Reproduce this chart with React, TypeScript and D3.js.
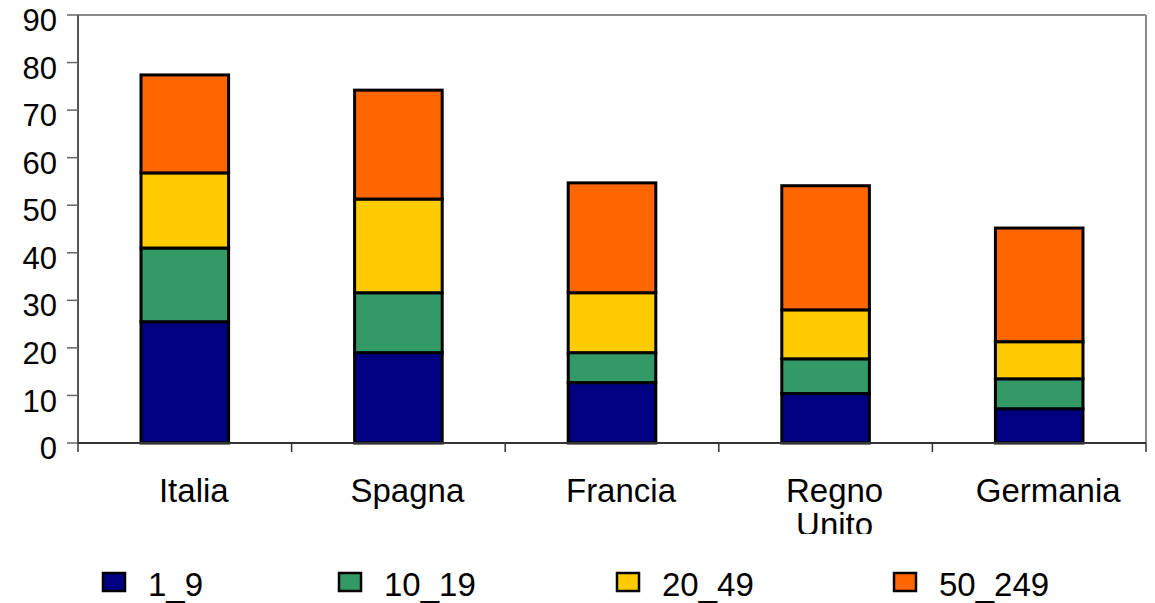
import React from "react";
import * as d3 from "d3";

const categories = ["Italia", "Spagna", "Francia", "Regno Unito", "Germania"];
const seriesNames = ["1_9", "10_19", "20_49", "50_249"];
const s1_9 = [25.5, 19.0, 12.7, 10.4, 7.2];
const s10_19 = [15.5, 12.6, 6.3, 7.3, 6.3];
const s20_49 = [15.8, 19.7, 12.6, 10.3, 7.8];
const s50_249 = [20.6, 22.9, 23.1, 26.1, 23.9];
const colors = ["#000080", "#339966", "#FFCC00", "#FF6600"];
const yTicks = [0, 10, 20, 30, 40, 50, 60, 70, 80, 90];

const W = 1155;
const H = 603;
const left = 78;
const right = 1146;
const top = 15;
const bottom = 443;
const font = "'Liberation Sans', Arial, sans-serif";

export default function App() {
  const seriesVals = [s1_9, s10_19, s20_49, s50_249];
  const rows = categories.map((c, i) => {
    const r: any = { cat: c };
    seriesNames.forEach((s, j) => (r[s] = seriesVals[j][i]));
    return r;
  });
  const stack = d3.stack().keys(seriesNames)(rows);
  const x = d3.scaleBand().domain(categories).range([left, right]).paddingInner(0).paddingOuter(0);
  const y = d3.scaleLinear().domain([0, 90]).range([bottom, top]);
  const bw = x.bandwidth() * 0.41;

  const legendX = [103, 339, 617, 894];

  return (
    <svg width={W} height={H} style={{ position: "absolute", left: 0, top: 0, background: "#fff" }}>
      <defs>
        <clipPath id="lblclip">
          <rect x={0} y={450} width={W} height={84} />
        </clipPath>
      </defs>
      {/* frame */}
      <line x1={left} x2={right} y1={top} y2={top} stroke="#8a8a8a" strokeWidth={2} />
      <line x1={right} x2={right} y1={top} y2={bottom} stroke="#8a8a8a" strokeWidth={2} />
      {/* bars */}
      {stack.map((layer, j) =>
        layer.map((d, i) => (
          <rect
            key={`${j}-${i}`}
            x={(x(categories[i]) as number) + x.bandwidth() / 2 - bw / 2}
            y={y(d[1])}
            width={bw}
            height={y(d[0]) - y(d[1])}
            fill={colors[j]}
            stroke="#000"
            strokeWidth={3}
          />
        ))
      )}
      {/* y axis */}
      <line x1={left} x2={left} y1={top} y2={bottom} stroke="#555" strokeWidth={2} />
      {yTicks.map((t) => (
        <g key={t}>
          <line x1={67} x2={left} y1={y(t)} y2={y(t)} stroke="#666" strokeWidth={1.5} />
          <text x={57} y={y(t) + 5} dy="0.36em" textAnchor="end" fontFamily={font} fontSize={31} fill="#000">
            {t}
          </text>
        </g>
      ))}
      {/* x axis */}
      <line x1={left} x2={right} y1={bottom} y2={bottom} stroke="#333" strokeWidth={2} />
      {[...categories.map((c) => x(c) as number), right].map((px, i) => (
        <line key={i} x1={px} x2={px} y1={bottom} y2={452} stroke="#333" strokeWidth={1.5} />
      ))}
      <g clipPath="url(#lblclip)">
        {categories.map((c) => {
          const cx = (x(c) as number) + x.bandwidth() / 2 + 9;
          const parts = c === "Regno Unito" ? ["Regno", "Unito"] : [c];
          return (
            <text key={c} x={cx} y={502} textAnchor="middle" fontFamily={font} fontSize={33} fill="#000">
              {parts.map((p, k) => (
                <tspan key={k} x={cx} dy={k === 0 ? 0 : 34}>
                  {p}
                </tspan>
              ))}
            </text>
          );
        })}
      </g>
      {/* legend */}
      {seriesNames.map((s, j) => (
        <g key={s}>
          <rect x={legendX[j]} y={573} width={22} height={18} fill={colors[j]} stroke="#000" strokeWidth={2.5} />
          <text x={legendX[j] + 45} y={596} fontFamily={font} fontSize={33} fill="#000">
            {s}
          </text>
        </g>
      ))}
    </svg>
  );
}
